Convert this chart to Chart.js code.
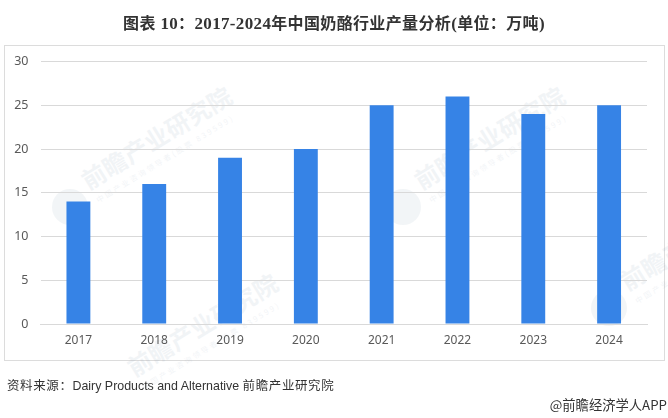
<!DOCTYPE html>
<html><head><meta charset="utf-8">
<style>
html,body{margin:0;padding:0;background:#fff;width:668px;height:418px;overflow:hidden}
#wrap{position:relative;width:668px;height:418px;overflow:hidden}
#frame{position:absolute;left:4px;top:45px;width:659px;height:314px;border:1px solid #dcdcdc;box-sizing:content-box}
canvas{position:absolute;left:0;top:0;z-index:2}
.t{position:absolute;white-space:nowrap;font-family:"Noto Sans CJK SC","Liberation Sans",sans-serif}
#title{left:0;width:668px;top:12px;text-align:center;font-weight:700;font-size:17px;letter-spacing:.35px;color:#333;font-family:"Liberation Serif","Noto Sans CJK SC",serif;line-height:20px;z-index:3}
#title span{font-family:"Noto Sans CJK SC",sans-serif;font-size:16px}
#src{left:7px;top:376px;font-size:12.5px;letter-spacing:.6px;color:#333;line-height:18px;z-index:3}
#src i{font-style:normal;font-family:"Liberation Sans",sans-serif;font-size:12.4px;letter-spacing:0}
#app{right:1px;top:396px;font-size:13.3px;color:#333;line-height:18px;z-index:3}
.g{position:absolute;width:0;height:0;transform:rotate(-31.5deg);transform-origin:0 0;z-index:1}
.g .m{position:absolute;left:0;top:-30px;line-height:34px;white-space:nowrap;font-family:"Noto Sans CJK SC",sans-serif;font-weight:700;font-size:24px;letter-spacing:.5px;color:#5b7a9c;opacity:.08}
.g .s{position:absolute;left:2px;top:5px;line-height:10px;white-space:nowrap;font-family:"Noto Sans CJK SC",sans-serif;font-size:7.5px;letter-spacing:2.3px;color:#5b7a9c;opacity:.08}
.d{position:absolute;width:36px;height:36px;border-radius:50%;background:#5b7a9c;opacity:.08;z-index:1}
</style></head><body>
<div id="wrap">
<div id="frame"></div>
<div class="d" style="left:52px;top:189px"></div>
<div class="g" style="left:90px;top:193px"><div class="m">前瞻产业研究院</div><div class="s">中国产业咨询领导者(股票 839599)</div></div>
<div class="d" style="left:385px;top:189px"></div>
<div class="g" style="left:423px;top:193px"><div class="m">前瞻产业研究院</div><div class="s">中国产业咨询领导者(股票 839599)</div></div>
<div class="g" style="left:136px;top:380px"><div class="m">前瞻产业研究院</div><div class="s">中国产业咨询领导者(股票 839599)</div></div>
<div class="d" style="left:591px;top:290px"></div>
<div class="g" style="left:629px;top:294px"><div class="m">前瞻产业研究院</div><div class="s">中国产业咨询领导者(股票 839599)</div></div>
<canvas id="c" width="668" height="418" style="width:668px;height:418px"></canvas>
<div class="t" id="title"><span>图表</span> 10<span>：</span>2017-2024<span>年中国奶酪行业产量分析</span>(<span>单位：万吨</span>)</div>
<div class="t" id="src">资料来源：<i>Dairy Products and Alternative</i> 前瞻产业研究院</div>
<div class="t" id="app">@前瞻经济学人APP</div>
</div>
<script src="https://cdn.jsdelivr.net/npm/chart.js@4/dist/chart.umd.min.js"></script>
<script>
const categories = ["2017","2018","2019","2020","2021","2022","2023","2024"];
const output = [14,16,19,20,25,26,24,25];
const yTicks = [0,5,10,15,20,25,30];
new Chart(document.getElementById('c'),{
  type:'bar',
  data:{labels:categories,datasets:[{label:'产量',data:output,backgroundColor:'#3683e6',borderWidth:0,barPercentage:0.315,categoryPercentage:1}]},
  options:{
    responsive:false,animation:false,devicePixelRatio:1,
    layout:{padding:{left:0,right:21,top:61.6,bottom:0}},
    plugins:{legend:{display:false},tooltip:{enabled:false},title:{display:false}},
    scales:{
      x:{
        grid:{display:false,drawTicks:false},
        border:{color:'#d9d9d9',width:1},
        ticks:{color:'#595959',font:{family:'"Noto Sans",sans-serif',size:12},padding:9,maxRotation:0},
        afterFit(a){a.height=94;}
      },
      y:{
        min:0,max:30,
        afterBuildTicks(a){a.ticks=yTicks.map(v=>({value:v}));},
        grid:{color:'#d9d9d9',lineWidth:1,drawTicks:false},
        border:{display:false},
        ticks:{color:'#595959',font:{family:'"Noto Sans",sans-serif',size:12.5},padding:12},
        afterFit(a){a.width=40.5;}
      }
    }
  }
});
</script>
</body></html>
